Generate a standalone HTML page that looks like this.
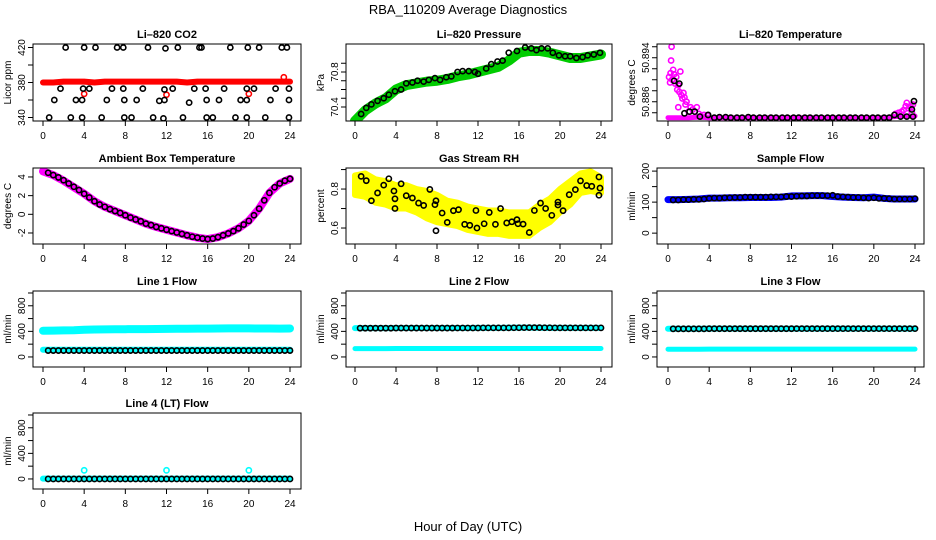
<!DOCTYPE html>
<html><head><meta charset="utf-8">
<style>
html,body{margin:0;padding:0;background:#fff;}
svg{display:block;font-family:"Liberation Sans",Arial,sans-serif;}
</style></head>
<body>
<svg id="chart" width="936" height="540" viewBox="0 0 936 540" xmlns="http://www.w3.org/2000/svg">
<rect width="936" height="540" fill="#fff"/>
<text x="468" y="14" font-size="13" text-anchor="middle">RBA_110209  Average Diagnostics</text>
<text x="468" y="531" font-size="13" text-anchor="middle">Hour of Day (UTC)</text>
</svg>
<script>
// ---------- data ----------
const hours = [0,1,2,3,4,5,6,7,8,9,10,11,12,13,14,15,16,17,18,19,20,21,22,23,24];
const halfT = [0.5,1,1.5,2,2.5,3,3.5,4,4.5,5,5.5,6,6.5,7,7.5,8,8.5,9,9.5,10,10.5,11,11.5,12,12.5,13,13.5,14,14.5,15,15.5,16,16.5,17,17.5,18,18.5,19,19.5,20,20.5,21,21.5,22,22.5,23,23.5,24];
const xTicks = [0,4,8,12,16,20,24];

// CO2
const co2RedVals = [380,380,381,381,381,380,381,381,381,381,381,381,381,381,380,381,381,381,381,381,381,381,381,381,381];
const co2RedOutT = [4.0,12.0,20.0,23.4];
const co2RedOutV = [367,366,367,386];
const co2BlackT = [2.2,4.0,5.1,7.2,7.8,10.2,11.9,13.1,15.2,15.4,18.2,19.9,21.0,23.2,23.7, 0.6,2.7,3.8,5.7,7.9,8.6,10.7,11.7,13.6,15.9,16.5,18.7,19.8,21.6,23.9, 1.7,3.9,4.5,6.7,7.8,9.7,11.8,12.6,14.7,15.8,17.6,19.8,20.5,22.6,23.9, 1.1,3.2,3.8,6.2,7.9,9.1,11.3,11.8,15.9,17.1,19.2,19.8,22.1,23.9,14.2];
const co2BlackV = [420,420,420,420,420,420,419,420,420,420,420,420,420,420,420, 340,340,340,340,340,340,340,339,340,340,340,340,340,340,340, 373,373,373,373,373,373,372,373,373,373,373,373,373,373,373, 360,360,360,360,360,360,359,360,360,360,360,360,360,360,357];

// Pressure
const presGreenVals = [70.24,70.36,70.44,70.50,70.60,70.65,70.67,70.69,70.70,70.72,70.75,70.77,70.80,70.83,70.86,70.93,71.02,71.04,71.04,71.02,70.99,70.96,70.96,70.98,71.00];
const presBlackT = [0.6,1.1,1.6,2.2,2.8,3.3,3.9,4.5,5.0,5.6,6.1,6.7,7.2,7.8,8.3,8.9,9.4,10.0,10.5,11.1,11.7,12.0,12.8,13.3,13.9,14.4,15.0,15.8,16.6,17.2,17.7,18.2,18.8,19.3,19.9,20.5,21.0,21.6,22.2,22.7,23.3,23.9];
const presBlackV = [70.32,70.39,70.43,70.47,70.50,70.54,70.58,70.60,70.67,70.68,70.70,70.69,70.71,70.73,70.71,70.74,70.75,70.80,70.81,70.81,70.80,70.78,70.84,70.89,70.92,70.93,71.02,71.04,71.08,71.07,71.05,71.07,71.07,71.02,70.99,70.98,70.98,70.96,70.97,70.99,71.00,71.02];

// Li-820 temperature
const ltMagT = [0.1,0.2,0.25,0.3,0.35,0.4,0.5,0.6,0.7,0.8,0.9,1.0,1.1,1.2,1.3,1.4,1.5,1.6,1.7,1.8,1.0,2.0,2.2,2.4,2.6,2.8,3.0,3.2,3.5,3.8,22.1,22.4,22.7,22.9,23.1,23.2,23.4,23.6,23.8,23.7];
const ltMagV = [50.8905,50.8895,50.8912,50.8935,50.8960,50.8900,50.8918,50.8910,50.8893,50.8905,50.8882,50.8890,50.8878,50.8915,50.8872,50.8866,50.8876,50.8868,50.8855,50.8860,50.8850,50.8842,50.8850,50.8846,50.8842,50.8850,50.8838,50.8834,50.8836,50.8835,50.8838,50.8840,50.8842,50.8845,50.8852,50.8858,50.8848,50.8850,50.8855,50.8840];
const ltFlatVals = [50.8831,50.8831,50.8831,50.8832,50.8831,50.8831,50.8831,50.8831,50.8831,50.8831,50.8831,50.8831,50.8831,50.8831,50.8831,50.8831,50.8831,50.8831,50.8831,50.8831,50.8831,50.8831,50.8833,50.8834,50.8834];
const ltBlackT = [0.6,1.1,1.6,2.1,2.6,3.1,3.9,4.5,5.0,5.6,6.1,6.7,7.2,7.8,8.3,8.9,9.4,10.0,10.5,11.1,11.6,12.2,12.7,13.3,13.8,14.4,14.9,15.5,16.0,16.6,17.1,17.7,18.2,18.8,19.3,19.9,20.4,21.0,21.5,22.0,22.6,23.2,23.7,23.9,23.8];
const ltBlackV = [50.8898,50.8893,50.8839,50.8842,50.8842,50.8833,50.8836,50.8831,50.8832,50.8832,50.8831,50.8831,50.8831,50.8832,50.8831,50.8831,50.8831,50.8831,50.8831,50.8831,50.8831,50.8831,50.8831,50.8831,50.8831,50.8831,50.8831,50.8831,50.8831,50.8831,50.8831,50.8831,50.8831,50.8831,50.8831,50.8831,50.8831,50.8831,50.8831,50.8836,50.8833,50.8833,50.8846,50.8861,50.8833];

// Ambient box temperature
const ambMagVals = [4.6,4.2,3.6,2.9,2.2,1.4,0.8,0.35,-0.1,-0.55,-1.0,-1.35,-1.65,-1.95,-2.25,-2.5,-2.65,-2.45,-2.05,-1.5,-0.7,0.6,2.3,3.3,3.8];
const ambBlackV = [4.45,4.2,3.95,3.65,3.3,2.95,2.6,2.2,1.8,1.4,1.05,0.8,0.55,0.35,0.15,-0.1,-0.35,-0.55,-0.75,-1.0,-1.15,-1.35,-1.5,-1.65,-1.8,-1.95,-2.1,-2.25,-2.4,-2.5,-2.6,-2.65,-2.6,-2.45,-2.25,-2.05,-1.8,-1.5,-1.1,-0.7,-0.1,0.6,1.5,2.3,2.9,3.3,3.6,3.8];

// Gas stream RH
const rhYelMid = [0.82,0.82,0.79,0.78,0.76,0.76,0.74,0.72,0.70,0.68,0.67,0.65,0.64,0.63,0.63,0.62,0.62,0.62,0.66,0.69,0.74,0.78,0.83,0.84,0.82];
const rhYelHalf = [0.05,0.06,0.06,0.06,0.06,0.06,0.06,0.07,0.07,0.06,0.06,0.06,0.06,0.06,0.06,0.06,0.06,0.06,0.06,0.06,0.06,0.06,0.05,0.05,0.04];
const rhBlackT = [0.6,1.1,1.6,2.2,2.8,3.3,3.9,3.9,3.8,4.5,5.0,5.6,6.2,6.7,7.3,7.8,7.9,7.9,8.5,9.0,9.6,10.1,10.7,11.2,11.8,11.9,12.6,13.1,13.7,14.2,14.8,15.3,15.8,15.9,16.4,17.0,17.5,18.1,18.6,19.2,19.8,19.8,20.3,20.9,21.5,22.0,22.6,23.1,23.8,23.9,23.8];
const rhBlackV = [0.865,0.843,0.74,0.78,0.82,0.853,0.70,0.75,0.79,0.827,0.766,0.754,0.728,0.716,0.798,0.72,0.74,0.586,0.677,0.629,0.689,0.694,0.619,0.614,0.69,0.60,0.622,0.68,0.619,0.70,0.626,0.632,0.643,0.622,0.62,0.577,0.69,0.728,0.70,0.665,0.733,0.718,0.689,0.771,0.797,0.842,0.818,0.814,0.862,0.805,0.768];

// Sample flow
const sfBlueVals = [108,108,109,110,113,113,114,114,115,115,115,116,120,120,121,121,118,116,115,114,116,112,110,110,110];
const sfBlackV = [107,107,108,108,109,109,110,112,113,113,114,114,115,115,116,116,116,116,116,117,117,117,118,118,119,120,120,121,121,121,121,122,118,117,116,115,115,114,113,114,112,112,111,110,110,110,110,111];

// Line flows
const l1CyanHi = [410,412,415,418,425,430,432,433,434,435,436,437,438,440,441,442,443,445,446,447,446,445,444,443,445];
const l1CyanLo = [112,112,112,112,112,112,112,112,112,112,112,112,112,112,112,112,112,112,112,112,112,112,112,112,112];
const l1BlackV = [100,100,100,100,100,100,100,100,100,100,100,100,100,100,100,100,100,100,100,100,100,100,100,100,100,100,100,100,100,100,100,100,100,100,100,100,100,100,100,100,100,100,100,100,100,100,100,100];
const l2CyanHi = [450,450,450,450,452,452,452,452,452,452,453,453,455,455,455,457,458,458,457,455,455,455,455,455,455];
const l2CyanLo = [130,130,130,131,132,132,132,132,132,132,132,133,133,133,133,133,133,133,133,132,132,132,132,132,132];
const l2BlackV = [450,450,450,450,450,450,450,452,452,452,452,452,452,452,452,452,452,452,452,453,453,453,453,453,455,455,455,455,455,455,457,457,458,458,458,458,457,457,455,455,455,455,455,455,455,455,455,455];
const l3CyanHi = [440,440,440,440,442,442,442,442,442,442,442,442,443,443,443,443,443,443,443,443,443,443,443,443,443];
const l3CyanLo = [120,120,121,121,122,122,122,122,122,122,122,122,122,122,122,122,122,122,122,122,122,122,122,122,122];
const l3BlackV = [440,440,440,440,440,440,440,442,442,442,442,442,442,442,442,442,442,442,442,442,442,442,442,442,443,443,443,443,443,443,443,443,443,443,443,443,443,443,443,443,443,443,443,443,443,443,443,443];
const l4CyanVals = [5,5,5,5,5,5,5,5,5,5,5,5,5,5,5,5,5,5,5,5,5,5,5,5,5];
const l4OutT = [4.0,12.0,20.0];
const l4OutV = [135,135,135];
const l4BlackV = [0,0,0,0,0,0,0,0,0,0,0,0,0,0,0,0,0,0,0,0,0,0,0,0,0,0,0,0,0,0,0,0,0,0,0,0,0,0,0,0,0,0,0,0,0,0,0,0];

// ---------- drawing ----------
const NS = "http://www.w3.org/2000/svg";
const svg = document.getElementById("chart");
const colL = [33,346,657], colR = [301,612,924], colX0 = [43,355,668], colX24 = [290,601,915];
const rowT = [44,168,291,413], rowB = [121,244,367,489];

function mk(tag, parent){ const e = document.createElementNS(NS, tag); parent.appendChild(e); return e; }

function panel(name, c, r, ymin, ymax, yticks, ylabels, ylab, title){
  const g = mk("g", svg);
  
  
  const L = colL[c], R = colR[c], T = rowT[r], B = rowB[r];
  const sx = h => colX0[c] + h / 24 * (colX24[c] - colX0[c]);
  const sy = v => B - (v - ymin) / (ymax - ymin) * (B - T);
  const t = mk("text", g);
  
  
  t.setAttribute("x", (L + R) / 2); t.setAttribute("y", T - 6);
  t.setAttribute("font-size", "11"); t.setAttribute("font-weight", "bold"); t.setAttribute("text-anchor", "middle");
  t.textContent = title;
  const box = mk("rect", g);
  
  
  box.setAttribute("x", L); box.setAttribute("y", T); box.setAttribute("width", R - L); box.setAttribute("height", B - T);
  box.setAttribute("fill", "none"); box.setAttribute("stroke", "#000"); box.setAttribute("stroke-width", "1");
  const xa = mk("g", g);
  
  
  xTicks.forEach(v => {
    const x = sx(v);
    const l = mk("line", xa);
    l.setAttribute("x1", x); l.setAttribute("x2", x); l.setAttribute("y1", B); l.setAttribute("y2", B + 5); l.setAttribute("stroke", "#000");
    const tx = mk("text", xa);
    
    
    tx.setAttribute("x", x); tx.setAttribute("y", B + 18); tx.setAttribute("font-size", "10"); tx.setAttribute("text-anchor", "middle");
    tx.textContent = v;
  });
  const ya = mk("g", g);
  
  
  yticks.forEach(v => {
    const y = sy(v);
    const l = mk("line", ya);
    l.setAttribute("x1", L - 5); l.setAttribute("x2", L); l.setAttribute("y1", y); l.setAttribute("y2", y); l.setAttribute("stroke", "#000");
  });
  ylabels.forEach(v => {
    const y = sy(v);
    const tx = mk("text", ya);
    
    
    tx.setAttribute("transform", "translate(" + (L - 8) + "," + y + ") rotate(-90)");
    tx.setAttribute("font-size", "10"); tx.setAttribute("text-anchor", "middle");
    tx.textContent = v;
  });
  const yl = mk("text", ya);
  
  
  yl.setAttribute("transform", "translate(" + (L - 22) + "," + ((T + B) / 2) + ") rotate(-90)");
  yl.setAttribute("font-size", "10"); yl.setAttribute("text-anchor", "middle");
  yl.textContent = ylab;
  const clipId = "clip-" + name;
  const cp = mk("clipPath", g); cp.setAttribute("id", clipId);
  const cr = mk("rect", cp); cr.setAttribute("x", L + 0.5); cr.setAttribute("y", T + 0.5); cr.setAttribute("width", R - L - 1); cr.setAttribute("height", B - T - 1);
  const data = mk("g", g);
  data.setAttribute("clip-path", "url(#" + clipId + ")");
  
  
  return {g: data, sx, sy, name};
}

function band(p, ts, vals, color, width, nm){
  const pl = mk("polyline", p.g);
  
  
  pl.setAttribute("points", ts.map((t, i) => p.sx(t) + "," + p.sy(vals[i])).join(" "));
  pl.setAttribute("fill", "none"); pl.setAttribute("stroke", color); pl.setAttribute("stroke-width", width);
  pl.setAttribute("stroke-linejoin", "round"); pl.setAttribute("stroke-linecap", "round");
}
function pts(p, ts, vals, color, nm, rad){
  ts.forEach((t, i) => {
    const c = mk("circle", p.g);
    
    
    c.setAttribute("cx", p.sx(t)); c.setAttribute("cy", p.sy(vals[i])); c.setAttribute("r", rad || 2.6);
    c.setAttribute("fill", "none"); c.setAttribute("stroke", color); c.setAttribute("stroke-width", "1.6");
  });
}
function fillBand(p, ts, mid, half, color, nm){
  const up = ts.map((t, i) => p.sx(t) + "," + p.sy(mid[i] + half[i]));
  const dn = ts.map((t, i) => p.sx(t) + "," + p.sy(mid[i] - half[i])).reverse();
  const pg = mk("polygon", p.g);
  
  
  pg.setAttribute("points", up.concat(dn).join(" "));
  pg.setAttribute("fill", color); pg.setAttribute("stroke", color); pg.setAttribute("stroke-width", "6"); pg.setAttribute("stroke-linejoin", "round");
}

// CO2
let p = panel("co2", 0, 0, 336, 424, [340,360,380,400,420], [340,380,420], "Licor ppm", "Li\u2013820 CO2");
band(p, hours, co2RedVals, "#ff0000", 6, "co2-red-series");
pts(p, co2RedOutT, co2RedOutV, "#ff0000", "co2-red-point");
pts(p, co2BlackT, co2BlackV, "#000", "co2-black-point");

// Pressure
p = panel("pressure", 1, 0, 70.24, 71.12, [70.4,70.5,70.6,70.7,70.8,70.9], [70.4,70.8], "kPa", "Li\u2013820 Pressure");
band(p, hours, presGreenVals, "#00cc00", 10, "pressure-green-series");
pts(p, presBlackT, presBlackV, "#000", "pressure-black-point");

// Li temp
p = panel("li-temp", 2, 0, 50.8825, 50.8965, [50.884,50.886,50.888,50.890,50.892,50.894,50.896], [50.886,50.894], "degrees C", "Li\u2013820 Temperature");
band(p, hours, ltFlatVals, "#ff00ff", 5, "li-temp-magenta-series");
pts(p, ltMagT, ltMagV, "#ff00ff", "li-temp-magenta-point");
pts(p, ltBlackT, ltBlackV, "#000", "li-temp-black-point");

// Ambient
p = panel("ambient", 0, 1, -3.18, 4.96, [-2,0,2,4], [-2,0,2,4], "degrees C", "Ambient Box Temperature");
band(p, hours, ambMagVals, "#ff00ff", 8, "ambient-magenta-series");
pts(p, halfT, ambBlackV, "#000", "ambient-black-point");

// RH
p = panel("rh", 1, 1, 0.518, 0.908, [0.6,0.7,0.8,0.9], [0.6,0.8], "percent", "Gas Stream RH");
fillBand(p, hours, rhYelMid, rhYelHalf, "#ffff00", "rh-yellow-series");
pts(p, rhBlackT, rhBlackV, "#000", "rh-black-point");

// Sample flow
p = panel("sample-flow", 2, 1, -35, 210, [0,50,100,150,200], [0,100,200], "ml/min", "Sample Flow");
band(p, hours, sfBlueVals, "#0000ff", 7, "sample-flow-blue-series");
pts(p, halfT, sfBlackV, "#000", "sample-flow-black-point");

const fT = [0,200,400,600,800,1000], fL = [0,400,800];
// Line 1
p = panel("line1-flow", 0, 2, -157, 1031, fT, fL, "ml/min", "Line 1 Flow");
band(p, hours, l1CyanHi, "#00ffff", 8, "line1-cyan-high-series");
band(p, hours, l1CyanLo, "#00ffff", 6, "line1-cyan-low-series");
pts(p, halfT, l1BlackV, "#000", "line1-black-point");
// Line 2
p = panel("line2-flow", 1, 2, -157, 1031, fT, fL, "ml/min", "Line 2 Flow");
band(p, hours, l2CyanHi, "#00ffff", 6, "line2-cyan-high-series");
band(p, hours, l2CyanLo, "#00ffff", 5, "line2-cyan-low-series");
pts(p, halfT, l2BlackV, "#000", "line2-black-point");
// Line 3
p = panel("line3-flow", 2, 2, -157, 1031, fT, fL, "ml/min", "Line 3 Flow");
band(p, hours, l3CyanHi, "#00ffff", 6, "line3-cyan-high-series");
band(p, hours, l3CyanLo, "#00ffff", 5, "line3-cyan-low-series");
pts(p, halfT, l3BlackV, "#000", "line3-black-point");
// Line 4
p = panel("line4-flow", 0, 3, -157, 1031, fT, fL, "ml/min", "Line 4 (LT) Flow");
band(p, hours, l4CyanVals, "#00ffff", 6, "line4-cyan-series");
pts(p, l4OutT, l4OutV, "#00ffff", "line4-cyan-outlier");
pts(p, halfT, l4BlackV, "#000", "line4-black-point");
</script>
</body></html>
